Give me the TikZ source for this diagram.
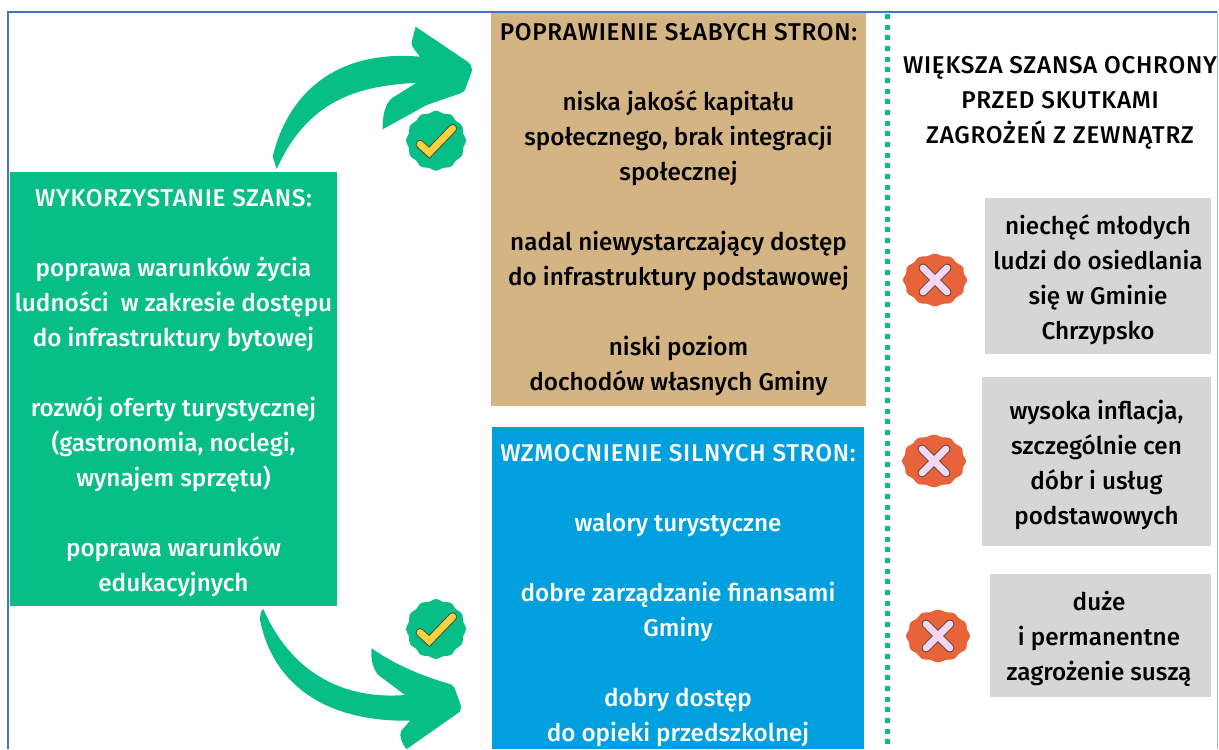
\documentclass[tikz,border=0pt]{standalone}
\usepackage{fontspec}
\setmainfont{Fira Sans}[UprightFont={* Medium},BoldFont={* SemiBold}]
\newfontfamily\hdfont{Fira Sans}[UprightFont={* Medium},LetterSpace=3]
\definecolor{gr}{HTML}{07BE86}
\definecolor{tan1}{HTML}{D4B483}
\definecolor{bl}{HTML}{00A0DF}
\definecolor{gy}{HTML}{D6D6D6}
\definecolor{fr}{HTML}{4472C4}
\definecolor{org}{HTML}{E8623A}
\definecolor{pnk}{HTML}{F4D6F2}
\definecolor{yl}{HTML}{F8D33F}
\definecolor{dk}{HTML}{4A4A3A}
\newcommand{\hdline}[1]{{\hdfont\fontsize{18.2}{26.25}\selectfont #1}}
\tikzset{
  x=0.75pt,y=-0.75pt,
  txt/.style={align=center,inner sep=0pt,font=\fontsize{18.2}{26.25}\selectfont},
  box/.style={txt,anchor=north west,outer sep=0pt},
  okbadge/.pic={
    \fill[gr] plot[domain=0:360,samples=145,smooth] ({29*(1+0.03*cos(12*\x))*cos(\x)},{29*(1+0.03*cos(12*\x))*sin(\x)}) -- cycle;
    \draw[dk,line width=6.6pt,line cap=round,line join=miter] (-16,3.5) -- (-6.7,12) -- (16.7,-12.3);
    \draw[yl,line width=5.1pt,line cap=round,line join=miter] (-16,3.5) -- (-6.7,12) -- (16.7,-12.3);
  },
  nobadge/.pic={
    \fill[org] plot[domain=0:360,samples=145,smooth] ({31*(1+0.03*cos(12*\x))*cos(\x)},{25.5*(1+0.03*cos(12*\x))*sin(\x)}) -- cycle;
    \draw[dk,line width=6.6pt,line cap=round] (-12,-12) -- (12,12) (12,-12) -- (-12,12);
    \draw[pnk,line width=5.1pt,line cap=round] (-12,-12) -- (12,12) (12,-12) -- (-12,12);
  }
}
\begin{document}
\begin{tikzpicture}
\useasboundingbox (0,0) rectangle (1219,749);
\clip (0,0) rectangle (1219,749);
% frame
\draw[fr,line width=1.8pt] (8,749) -- (8,12) -- (1217,12);
\draw[fr!50,line width=0.8pt] (1217.5,12) -- (1217.5,749);
% left box
\node[box,fill=gr,minimum width=327*0.75pt,minimum height=434*0.75pt] (szanseTlo) at (10,172) {};
\node[txt,text=white] (szanse) at (173.5,393.5) {\hdline{WYKORZYSTANIE SZANS:}\\[26.25pt]poprawa warunków życia\\ludności\ \ w zakresie dostępu\\do infrastruktury bytowej\\[26.25pt]rozwój oferty turystycznej\\(gastronomia, noclegi,\\wynajem sprzętu)\\[26.25pt]poprawa warunków\\edukacyjnych};
% tan box
\node[box,fill=tan1,minimum width=375*0.75pt,minimum height=393*0.75pt] (slabeTlo) at (491,13) {};
\node[txt,text=black] (slabe) at (678.5,210) {\hdline{POPRAWIENIE SŁABYCH STRON:}\\[26.25pt]niska jakość kapitału\\społecznego, brak integracji\\społecznej\\[26.25pt]nadal niewystarczający dostęp\\do infrastruktury podstawowej\\[26.25pt]niski poziom\\dochodów własnych Gminy};
% blue box
\node[box,fill=bl,minimum width=372*0.75pt,minimum height=322*0.75pt] (silneTlo) at (492,427) {};
\node[txt,text=white] (silne) at (678,595.5) {\hdline{WZMOCNIENIE SILNYCH STRON:}\\[26.25pt]walory turystyczne\\[26.25pt]dobre zarządzanie finansami\\Gminy\\[26.25pt]dobry dostęp\\do opieki przedszkolnej};
% dotted divider
\coordinate (dt) at (887,14);
\coordinate (db) at (887,749);
\draw[gr,line width=3.75pt,dash pattern=on 3.75pt off 4.25pt] (dt) -- (db);
% right header
\node[txt,text=black] (wieksza) at (1060,103) {\hdline{WIĘKSZA SZANSA OCHRONY}\\\hdline{PRZED SKUTKAMI}\\\hdline{ZAGROŻEŃ Z ZEWNĄTRZ}};
% grey boxes
\node[box,fill=gy,minimum width=226*0.75pt,minimum height=156*0.75pt] (z1Tlo) at (985,198) {};
\node[txt,text=black] (z1) at (1098,279.5) {niechęć młodych\\ludzi do osiedlania\\się w Gminie\\Chrzypsko};
\node[box,fill=gy,minimum width=229*0.75pt,minimum height=169*0.75pt] (z2Tlo) at (982,377) {};
\node[txt,text=black] (z2) at (1096.5,464.5) {wysoka inflacja,\\szczególnie cen\\dóbr i usług\\podstawowych};
\node[box,fill=gy,minimum width=221*0.75pt,minimum height=123*0.75pt] (z3Tlo) at (990,574) {};
\node[txt,text=black] (z3) at (1099,639) {duże\\i permanentne\\zagrożenie suszą};
% arrows
\fill[gr] (276.7,169) -- (272.7,156.7) .. controls (290,85) and (345,50) .. (420,56.7)
  .. controls (415,50) and (410,45) .. (411.7,41.7) -- (415.7,26.7) -- (468,62)
  .. controls (472,65) and (472,70) .. (471.7,71.7) -- (466,87)
  .. controls (465,91) and (463,92.7) .. (460,93.5) -- (426.7,105) -- (382.7,129.3)
  .. controls (382,115) and (386,103) .. (391.7,98.3) -- (416.7,82.7)
  .. controls (365,86) and (310,95) .. (276.7,169) -- cycle;
\fill[gr] (263.3,609) .. controls (261,610) and (260,615) .. (260,620)
  .. controls (272,680) and (320,722) .. (410,720.7) -- (401,731)
  .. controls (399,735) and (402,745) .. (406.7,749) -- (460,711.7)
  .. controls (461,708) and (461,706) .. (460.7,705) -- (456,692)
  .. controls (455,688) and (453,685) .. (450,684) .. controls (425,677) and (395,665) .. (371.7,648.3)
  .. controls (370,660) and (374,670) .. (378.3,675) -- (405,695)
  .. controls (340,700) and (290,670) .. (263.3,609) -- cycle;
% badges
\pic at (436,140.7) {okbadge};
\pic at (436,629) {okbadge};
\pic at (935,280) {nobadge};
\pic at (934,461) {nobadge};
\pic at (938,636) {nobadge};
\end{tikzpicture}
\end{document}
